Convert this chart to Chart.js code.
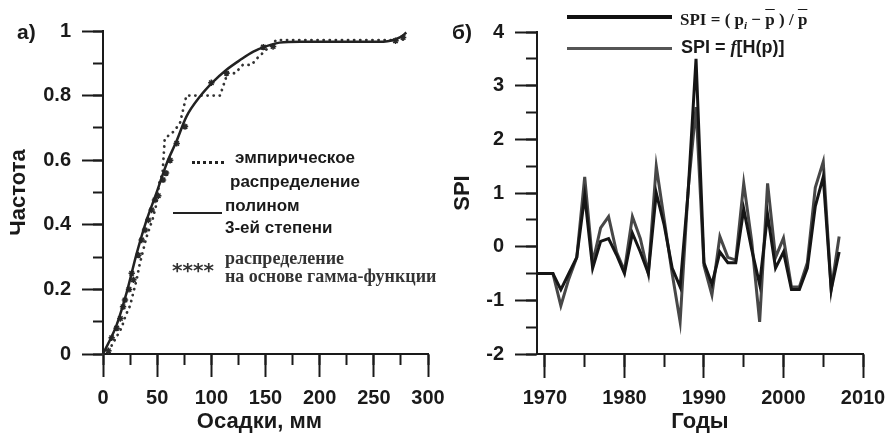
<!DOCTYPE html>
<html>
<head>
<meta charset="utf-8">
<script src="https://cdn.jsdelivr.net/npm/chart.js@4.4.1/dist/chart.umd.min.js"></script>
<style>
  body { margin: 0; background: #fff; }
  #wrap { position: relative; width: 888px; height: 434px; overflow: hidden;
          font-family: "Liberation Sans", Arial, sans-serif; color: #1a1a1a; }
  canvas { position: absolute; top: 0; }
  #chart-a { left: 0; }
  #chart-b { left: 444px; }
  .txt { position: absolute; white-space: nowrap; font-weight: bold; line-height: 1; }
  .serif { font-family: "Liberation Serif", "Times New Roman", serif; }
  .ln { position: absolute; height: 0; }
  .ov { text-decoration: overline; }
</style>
</head>
<body>
<div id="wrap">
  <canvas id="chart-a" width="444" height="434"></canvas>
  <canvas id="chart-b" width="444" height="434"></canvas>

  <div class="txt" style="left:17px;top:21px;font-size:21px;">а)</div>
  <div class="txt" style="left:452px;top:21px;font-size:21px;">б)</div>

  <!-- легенда а) -->
  <div class="ln" style="left:192px;top:161px;width:32px;border-top:3px dotted #222;"></div>
  <div class="txt" style="left:235px;top:149px;font-size:17px;">эмпирическое</div>
  <div class="txt" style="left:230px;top:173px;font-size:17px;">распределение</div>
  <div class="ln" style="left:173px;top:212px;width:49px;border-top:2.5px solid #222;"></div>
  <div class="txt" style="left:225px;top:197px;font-size:17px;">полином</div>
  <div class="txt" style="left:225px;top:219px;font-size:17px;">3-ей степени</div>
  <div class="txt" style="left:172px;top:260px;font-size:20px;font-family:'DejaVu Sans';color:#333;">****</div>
  <div class="txt serif" style="left:225px;top:249px;font-size:18px;color:#333;">распределение</div>
  <div class="txt serif" style="left:225px;top:267px;font-size:18px;color:#333;">на основе гамма-функции</div>

  <!-- легенда б) -->
  <div class="ln" style="left:567px;top:15px;width:105px;border-top:4px solid #111;"></div>
  <div class="ln" style="left:567px;top:47px;width:105px;border-top:3.5px solid #555;"></div>
  <div class="txt serif" style="left:680px;top:11px;font-size:17px;">SPI = ( p<sub style="font-size:11px;"><i>i</i></sub> − <span class="ov">p</span> ) / <span class="ov">p</span></div>
  <div class="txt" style="left:681px;top:38px;font-size:18px;">SPI = <i class="serif">f</i>[H(p)]</div>
</div>

<script>
// ---------- а) распределение осадков ----------
const polyX = [0, 12.6, 21.8, 31, 40.3, 49.5, 58.8, 68, 77, 89.5, 101.8, 114, 126.5, 138.8, 151, 163, 182, 220, 259, 274, 280];
const polyY = [0, 0.09, 0.19, 0.31, 0.415, 0.5, 0.59, 0.66, 0.735, 0.797, 0.843, 0.88, 0.91, 0.936, 0.953, 0.964, 0.967, 0.967, 0.967, 0.98, 0.995];

const empX = [0, 7, 12, 17, 21, 25, 28, 31, 34, 37, 40, 43, 46, 49, 52, 55, 57, 65, 71, 77, 108, 115, 122, 129, 137, 143, 150, 160, 270, 280];
const empY = [0, 0.02, 0.05, 0.08, 0.12, 0.15, 0.19, 0.23, 0.28, 0.32, 0.36, 0.39, 0.42, 0.46, 0.53, 0.56, 0.667, 0.688, 0.714, 0.8, 0.8, 0.87, 0.869, 0.895, 0.895, 0.918, 0.94, 0.972, 0.972, 0.975];

const gamX = [5, 8, 12.6, 16, 18.5, 20.3, 24, 26.5, 28, 32.6, 35.7, 38.8, 41.8, 44.9, 48, 51, 55.4, 58.2, 62, 68, 75.7, 100, 114, 148, 157, 270, 277];
const gamY = [0.01, 0.05, 0.08, 0.11, 0.146, 0.167, 0.2, 0.25, 0.23, 0.306, 0.353, 0.384, 0.415, 0.446, 0.477, 0.49, 0.539, 0.56, 0.6, 0.652, 0.704, 0.84, 0.869, 0.95, 0.952, 0.97, 0.98];

// ---------- б) SPI по годам ----------
const years = [1969, 1970, 1971, 1972, 1973, 1974, 1975, 1976, 1977, 1978, 1979, 1980, 1981, 1982, 1983, 1984, 1985, 1986, 1987, 1988,
               1989, 1990, 1991, 1992, 1993, 1994, 1995, 1996, 1997, 1998, 1999, 2000, 2001, 2002, 2003, 2004, 2005, 2006, 2007];
const spiRatio = [-0.5, -0.5, -0.5, -0.8, -0.5, -0.2, 0.95, -0.4, 0.1, 0.15, -0.15, -0.5, 0.25, -0.1, -0.5, 1.0, 0.4, -0.4, -0.75, 1.0,
                  3.5, -0.3, -0.7, -0.1, -0.3, -0.3, 0.7, -0.05, -0.7, 0.6, -0.4, -0.1, -0.8, -0.8, -0.4, 0.75, 1.3, -0.8, -0.1];
const spiGamma = [-0.5, -0.5, -0.5, -1.1, -0.6, -0.2, 1.3, -0.3, 0.35, 0.56, -0.1, -0.45, 0.56, 0.15, -0.5, 1.5, 0.5, -0.5, -1.4, 1.05,
                  2.6, -0.35, -0.9, 0.19, -0.2, -0.25, 1.18, 0.1, -1.4, 1.18, -0.2, 0.16, -0.75, -0.75, -0.3, 1.1, 1.58, -0.8, 0.19];

const INK = "#1a1a1a";
Chart.defaults.font.family = "'Liberation Sans', Arial, sans-serif";
Chart.defaults.color = INK;

const pts = (xs, ys) => xs.map((x, i) => ({ x, y: ys[i] }));

// основная ось: длинные риски, подписи, заголовок
function axis(min, max, step, tickLen, pad, fmt, title, size) {
  return {
    type: "linear", min, max,
    grid: { display: true, drawOnChartArea: false, drawTicks: true, tickLength: tickLen, tickWidth: 2, tickColor: INK },
    border: { display: true, color: INK, width: 2 },
    ticks: { stepSize: step, includeBounds: false, padding: pad, font: { size: 20, weight: "bold" }, color: INK, callback: fmt },
    title: { display: true, text: title, color: INK, font: { size: 22, weight: "bold", lineHeight: 1 }, padding: { top: 8, bottom: 1 } },
    afterFit(s) {
      if (s.isHorizontal()) s.height = size; else s.width = size;
      s.paddingLeft = s.paddingRight = s.paddingTop = s.paddingBottom = 0;
    }
  };
}

// вспомогательная ось поверх основной: только короткие риски
function minorAxis(dir, min, max, step, tickLen, at) {
  return {
    type: "linear", axis: dir, min, max, position: at,
    grid: { display: true, drawOnChartArea: false, drawTicks: true, tickLength: tickLen, tickWidth: 2, tickColor: INK },
    border: { display: false },
    ticks: { stepSize: step, includeBounds: false, display: false }
  };
}

new Chart(document.getElementById("chart-a"), {
  type: "line",
  data: {
    datasets: [
      { label: "полином 3-ей степени", data: pts(polyX, polyY), borderColor: "#222", borderWidth: 2.5,
        cubicInterpolationMode: "monotone", pointRadius: 0, fill: false },
      { label: "распределение на основе гамма-функции", data: pts(gamX, gamY), showLine: false,
        pointStyle: "star", pointRadius: 3.2, borderColor: "#2a2a2a", borderWidth: 1.5, backgroundColor: "#2a2a2a" },
      { label: "эмпирическое распределение", data: pts(empX, empY), borderColor: "#333", borderWidth: 2.8,
        borderDash: [0.1, 6], borderCapStyle: "round", tension: 0, pointRadius: 0, fill: false }
    ]
  },
  options: {
    responsive: false, devicePixelRatio: 1, animation: false,
    layout: { padding: { left: 0, top: 31, right: 16, bottom: 0 } },
    clip: false,
    scales: {
      x: axis(0, 300, 50, 23, 9, v => String(v), "Осадки, мм\u00a0\u00a0", 80),
      y: axis(0, 1, 0.2, 21, 11, v => String(+v.toFixed(1)), "Частота", 103),
      xMinor: minorAxis("x", 0, 300, 25, 11, { y: 0 }),
      yMinor: minorAxis("y", 0, 1, 0.1, 10, { x: 0 })
    },
    plugins: { legend: { display: false }, tooltip: { enabled: false } }
  }
});

new Chart(document.getElementById("chart-b"), {
  type: "line",
  data: {
    datasets: [
      { label: "SPI = (pi - p)/p", data: pts(years, spiRatio), borderColor: "#151515", borderWidth: 3,
        tension: 0, pointRadius: 0, fill: false },
      { label: "SPI = f[H(p)]", data: pts(years, spiGamma), borderColor: "#474747", borderWidth: 3,
        tension: 0, pointRadius: 0, fill: false }
    ]
  },
  options: {
    responsive: false, devicePixelRatio: 1, animation: false,
    layout: { padding: { left: 0, top: 32, right: 25, bottom: 0 } },
    scales: {
      x: axis(1969, 2010, 10, 24, 8, v => String(v), "Годы", 80),
      y: axis(-2, 4, 1, 22, 11, v => String(v), "SPI", 93),
      xMinor: minorAxis("x", 1969, 2010, 5, 13, { y: -2 }),
      yMinor: minorAxis("y", -2, 4, 0.5, 11, { x: 1969 })
    },
    plugins: { legend: { display: false }, tooltip: { enabled: false } }
  }
});
</script>
</body>
</html>
